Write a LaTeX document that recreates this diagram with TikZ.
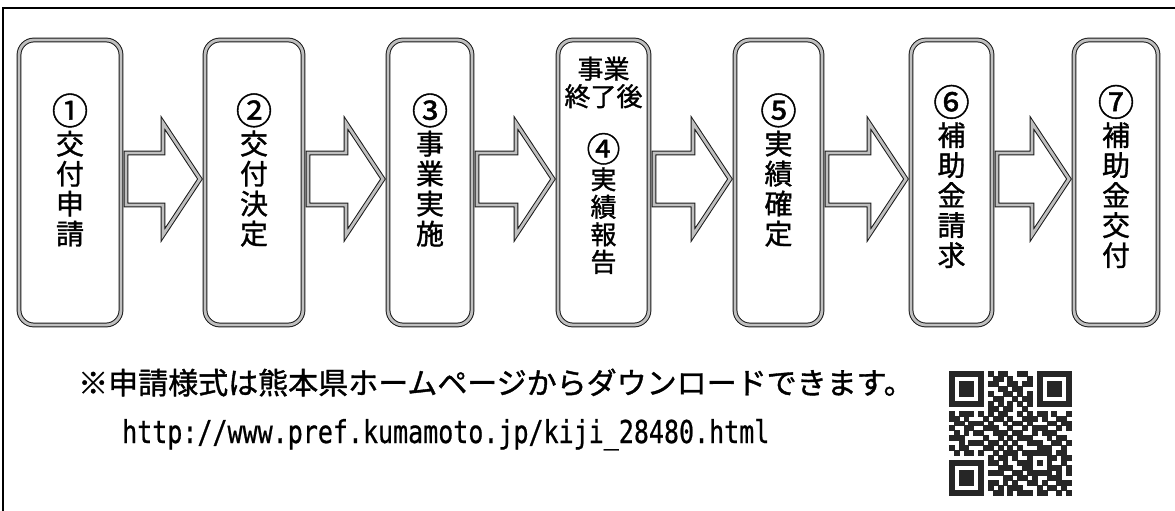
\documentclass[tikz,border=0pt]{standalone}
\usepackage{fontspec}
\usepackage{graphicx}
\newfontfamily\jpfont[FakeBold=1.2]{Noto Sans CJK JP}
\newfontfamily\urlfont[FakeBold=0.8]{DejaVu Sans Mono}
\usetikzlibrary{calc}
\newcommand\circnum[1]{\scalebox{1.3}{#1}}
\newcount\qrcnt
\def\qrrow#1#2{\def\qrr{#1}\qrcnt=0 \qrscan#2\relax}
\def\qrscan#1{\ifx#1\relax\else\if1#1\fill[qrmod] (\the\qrcnt,\qrr) rectangle ++(1,1);\fi\advance\qrcnt by 1 \expandafter\qrscan\fi}
\newcommand\blkarrow[2]{%
  \draw[blkarrow] let \p1=(#1.east), \p2=(#2.west) in
    ({\x1+5pt},-153pt) -- ({\x2-42pt},-153pt) -- ({\x2-42pt},-123pt) --
    ({\x2-5pt},-179pt) -- ({\x2-42pt},-235pt) -- ({\x2-42pt},-205pt) --
    ({\x1+5pt},-205pt) -- cycle;}
\begin{document}
\begin{tikzpicture}[x=1pt,y=-1pt,
  frameline/.style={line width=1.8pt,black},
  stepbox/.style={draw=black!90,line width=1pt,double=gray!50,double distance=2.8pt,
    rounded corners=15pt,fill=white,minimum height=285pt,inner sep=0pt,outer sep=0pt},
  blkarrow/.style={draw=black!90,line width=1pt,double=gray!50,double distance=2.8pt,
    fill=white,line join=miter},
  vtext/.style={font=\jpfont\fontsize{28}{30}\selectfont,align=center,inner sep=0pt},
  vtextsmall/.style={font=\jpfont\fontsize{26}{27.5}\selectfont,align=center,inner sep=0pt},
  notetext/.style={font=\jpfont\fontsize{30}{32}\selectfont,inner sep=0pt},
  urltext/.style={font=\urlfont\fontsize{25}{27}\selectfont,inner sep=0pt},
  qrmod/.style={fill=black!85,draw=black!85,line width=0.15pt}]
\useasboundingbox (0,0) rectangle (1175,511);
\fill[white] (0,0) rectangle (1175,511);
% frame
\draw[frameline] (1175,8) -- (3,8) -- (3,511);
% boxes
\node[stepbox,minimum width=102pt] (b1) at (70,182.5) {};
\node[stepbox,minimum width=98pt]  (b2) at (254,182.5) {};
\node[stepbox,minimum width=84pt]  (b3) at (430,182.5) {};
\node[stepbox,minimum width=91pt]  (b4) at (603.5,182.5) {};
\node[stepbox,minimum width=87pt]  (b5) at (778.5,182.5) {};
\node[stepbox,minimum width=81pt]  (b6) at (951.5,182.5) {};
\node[stepbox,minimum width=84pt]  (b7) at (1116,182.5) {};
% texts
\node[vtext] (t1) at (70,170) {\circnum{①}\\交\\付\\申\\請};
\node[vtext] (t2) at (254,170) {\circnum{②}\\交\\付\\決\\定};
\node[vtext] (t3) at (430,170) {\circnum{③}\\事\\業\\実\\施};
\node[vtextsmall] (t4a) at (603.5,82.5) {事業\\終了後};
\node[vtextsmall] (t4b) at (603.5,203.5) {\circnum{④}\\実\\績\\報\\告};
\node[vtext] (t5) at (778.5,170) {\circnum{⑤}\\実\\績\\確\\定};
\node[vtext] (t6) at (951.5,176.5) {\circnum{⑥}\\補\\助\\金\\請\\求};
\node[vtext] (t7) at (1116,176.5) {\circnum{⑦}\\補\\助\\金\\交\\付};
% block arrows
\blkarrow{b1}{b2}
\blkarrow{b2}{b3}
\blkarrow{b3}{b4}
\blkarrow{b4}{b5}
\blkarrow{b5}{b6}
\blkarrow{b6}{b7}
% note and url
\node[notetext,anchor=base west] (note) at (78,394) {※申請様式は熊本県ホームページからダウンロードできます。};
\node[urltext,anchor=base west] (url) at (122,443) {\scalebox{1}[1.26]{http://www.pref.kumamoto.jp/kiji{\char"5F}28480.html}};
% QR code
\begin{scope}[shift={(949,371)},x=4.88pt,y=-4.96pt]
\qrrow{0}{1111111010110011001111111}
\qrrow{1}{1000001001101000101000001}
\qrrow{2}{1011101011001101101011101}
\qrrow{3}{1011101000110110001011101}
\qrrow{4}{1011101010011010101011101}
\qrrow{5}{1000001001100101101000001}
\qrrow{6}{1111111010101010101111111}
\qrrow{7}{0000000011011001000000000}
\qrrow{8}{1011101010110010101101001}
\qrrow{9}{1101000101101001110100110}
\qrrow{10}{0110111010010110100011011}
\qrrow{11}{1001100111001001011100101}
\qrrow{12}{0101011001110110010111000}
\qrrow{13}{1110000100101011100010110}
\qrrow{14}{0010111011010100111001101}
\qrrow{15}{1011000110101010001110010}
\qrrow{16}{0101101001011101111110110}
\qrrow{17}{0000000010110100100011011}
\qrrow{18}{1111111011010011101010010}
\qrrow{19}{1000001000111001100011101}
\qrrow{20}{1011101011100110111110101}
\qrrow{21}{1011101000011011010011100}
\qrrow{22}{1011101011010100110100111}
\qrrow{23}{1000001010101110001011010}
\qrrow{24}{1111111001101011101100101}
\end{scope}
\end{tikzpicture}
\end{document}
